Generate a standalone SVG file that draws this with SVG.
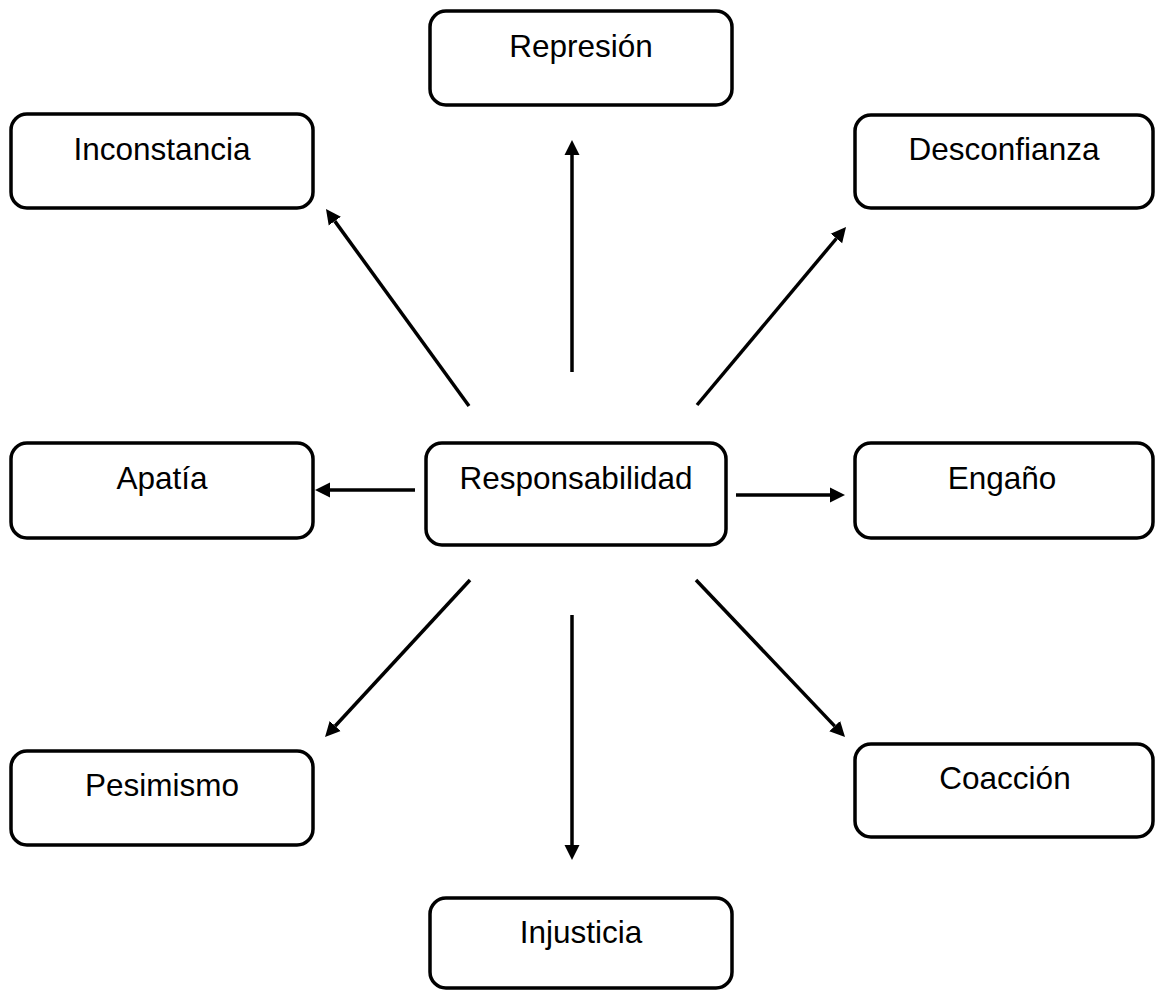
<svg xmlns="http://www.w3.org/2000/svg" width="1160" height="992" viewBox="0 0 1160 992">
<style>
.box{fill:#fff;stroke:#000;stroke-width:3.5}
.lbl{font-family:"Liberation Sans",Arial,sans-serif;font-size:31.5px;fill:#000;text-anchor:middle}
.conn line{stroke:#000;stroke-width:3.5;marker-end:url(#ah)}
</style>
<defs>
<marker id="ah" markerUnits="userSpaceOnUse" markerWidth="16" markerHeight="16" refX="0" refY="7.5" orient="auto" viewBox="0 0 16 15">
<path d="M0,0 L15,7.5 L0,15 z" fill="#000"/>
</marker>
</defs>
<rect width="1160" height="992" fill="#fff"/>
<g id="n-represion"><rect class="box" x="430" y="11" width="302" height="94" rx="16"/><text class="lbl" x="581" y="57">Represión</text></g>
<g id="n-inconstancia"><rect class="box" x="11" y="114" width="302" height="94" rx="16"/><text class="lbl" x="162" y="160">Inconstancia</text></g>
<g id="n-desconfianza"><rect class="box" x="855" y="115" width="298" height="93" rx="16"/><text class="lbl" x="1004" y="160">Desconfianza</text></g>
<g id="n-apatia"><rect class="box" x="11" y="443" width="302" height="95" rx="16"/><text class="lbl" x="162" y="489">Apatía</text></g>
<g id="n-responsabilidad"><rect class="box" x="426" y="443" width="300" height="102" rx="16"/><text class="lbl" x="576" y="489">Responsabilidad</text></g>
<g id="n-engano"><rect class="box" x="855" y="443" width="298" height="95" rx="16"/><text class="lbl" x="1002" y="489">Engaño</text></g>
<g id="n-pesimismo"><rect class="box" x="11" y="751" width="302" height="94" rx="16"/><text class="lbl" x="162" y="796">Pesimismo</text></g>
<g id="n-coaccion"><rect class="box" x="855" y="744" width="298" height="93" rx="16"/><text class="lbl" x="1005" y="789">Coacción</text></g>
<g id="n-injusticia"><rect class="box" x="430" y="898" width="302" height="90" rx="16"/><text class="lbl" x="581" y="943">Injusticia</text></g>
<g id="connectors" class="conn">
<line x1="572" y1="372" x2="572" y2="155"/>
<line x1="469" y1="406" x2="334.8" y2="221.1"/>
<line x1="697" y1="405" x2="836.4" y2="238.5"/>
<line x1="415" y1="490" x2="330" y2="490"/>
<line x1="736" y1="495" x2="830" y2="495"/>
<line x1="470" y1="580" x2="335.2" y2="726"/>
<line x1="572" y1="615" x2="572" y2="845"/>
<line x1="696" y1="580" x2="834.7" y2="726.1"/>
</g>
</svg>
